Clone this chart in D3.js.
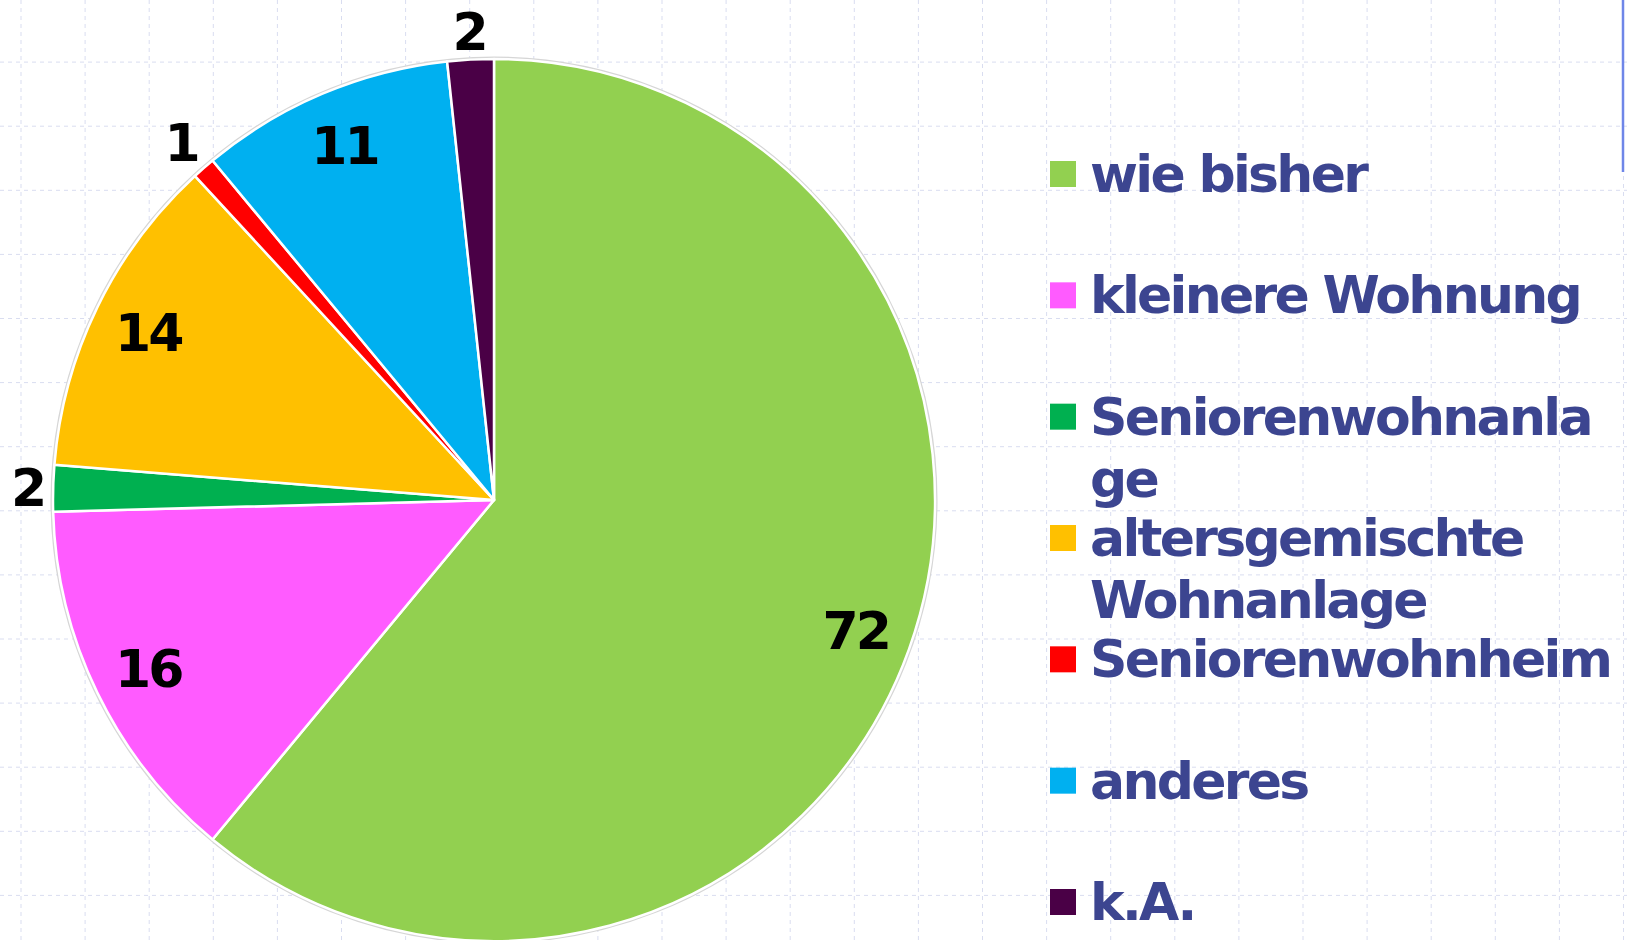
<!DOCTYPE html>
<html>
<head>
<meta charset="utf-8">
<script src="https://cdn.jsdelivr.net/npm/d3@7"></script>
<style>
  body { margin: 0; background: #fff; }
  svg { display: block; }
</style>
</head>
<body>
<svg width="1627" height="940"></svg>
<script>
// Wohnwunsch - Verteilung
const categories = ["wie bisher", "kleinere Wohnung", "Seniorenwohnanlage", "altersgemischte Wohnanlage", "Seniorenwohnheim", "anderes", "k.A."];
const values = [72, 16, 2, 14, 1, 11, 2];
const colors = ["#92d050", "#ff5bff", "#00b050", "#ffc000", "#ff0000", "#00b0f0", "#4a0046"];
const legendLines = [["wie bisher"], ["kleinere Wohnung"], ["Seniorenwohnanla", "ge"], ["altersgemischte", "Wohnanlage"], ["Seniorenwohnheim"], ["anderes"], ["k.A."]];

var svg = d3.select("svg"),
    width = +svg.attr("width"),
    height = +svg.attr("height");

// background grid
var grid = svg.append("g").attr("class", "grid")
  .style("stroke", "#d9ddf0").style("stroke-width", 1).style("stroke-dasharray", "4,4");
d3.range(21, width, 64.1).forEach(function(x) {
  grid.append("line").attr("x1", x).attr("x2", x).attr("y1", 0).attr("y2", height);
});
d3.range(-2, height, 64.1).forEach(function(y) {
  grid.append("line").attr("x1", 0).attr("x2", width).attr("y1", y).attr("y2", y);
});

// blue slide edge
svg.append("line").attr("x1", 1623).attr("x2", 1623).attr("y1", 0).attr("y2", 172)
  .style("stroke", "#6f86e8").style("stroke-width", 2.5);

var cx = 494, cy = 500, r = 441;

var pie = d3.pie().sort(null).value(function(d) { return d; });
var arcs = pie(values);
var arc = d3.arc().innerRadius(0).outerRadius(r);
var inArc = d3.arc().innerRadius(r * 0.872).outerRadius(r * 0.872);

var g = svg.append("g").attr("transform", "translate(" + cx + "," + cy + ")");

g.append("circle").attr("r", r + 1.5)
  .style("fill", "none").style("stroke", "#d6d6d6").style("stroke-width", 2);

g.selectAll("path.slice").data(arcs).enter().append("path")
  .attr("class", "slice")
  .attr("d", arc)
  .style("fill", function(d, i) { return colors[i]; })
  .style("stroke", "#fff").style("stroke-width", 2.5).style("stroke-linejoin", "round");

var labels = g.selectAll("text.val").data(arcs).enter().append("text")
  .attr("class", "val")
  .attr("text-anchor", "middle")
  .attr("dy", "0.36em")
  .style("font-family", "'DejaVu Sans', Verdana, sans-serif")
  .style("font-weight", "bold")
  .style("font-size", "52px")
  .style("letter-spacing", "-3px")
  .style("fill", "#000")
  .text(function(d) { return d.data; });

// small slices: label outside, its box kept a small gap off the rim
labels.attr("transform", function(d) {
  if (d.data >= 5) {
    var p = inArc.centroid(d);
    return "translate(" + p[0] + "," + p[1] + ")";
  }
  var a = (d.startAngle + d.endAngle) / 2,
      ux = Math.sin(a), uy = -Math.cos(a),
      w = this.getComputedTextLength() / 2, h = 19,
      ext = Math.min(Math.abs(ux) > 1e-6 ? w / Math.abs(ux) : Infinity, Math.abs(uy) > 1e-6 ? h / Math.abs(uy) : Infinity),
      dist = r + 9 + ext;
  return "translate(" + ux * dist + "," + uy * dist + ")";
});

// legend
var ly = d3.scaleLinear().domain([0, categories.length - 1]).range([174, 902]);
var leg = svg.append("g").attr("class", "legend");
var item = leg.selectAll("g").data(categories).enter().append("g")
  .attr("transform", function(d, i) { return "translate(1050," + ly(i) + ")"; });

item.append("rect")
  .attr("x", 0).attr("y", -13).attr("width", 26).attr("height", 26)
  .style("fill", function(d, i) { return colors[i]; });

item.each(function(d, i) {
  var t = d3.select(this).append("text")
    .attr("x", 40).attr("y", 18)
    .style("font-family", "'DejaVu Sans', Verdana, sans-serif")
    .style("font-weight", "bold")
    .style("font-size", "52px")
    .style("letter-spacing", "-2.7px")
    .style("fill", "#3c4590");
  legendLines[i].forEach(function(line, k) {
    t.append("tspan").attr("x", 40).attr("dy", k === 0 ? 0 : 62).text(line);
  });
});
</script>
</body>
</html>
